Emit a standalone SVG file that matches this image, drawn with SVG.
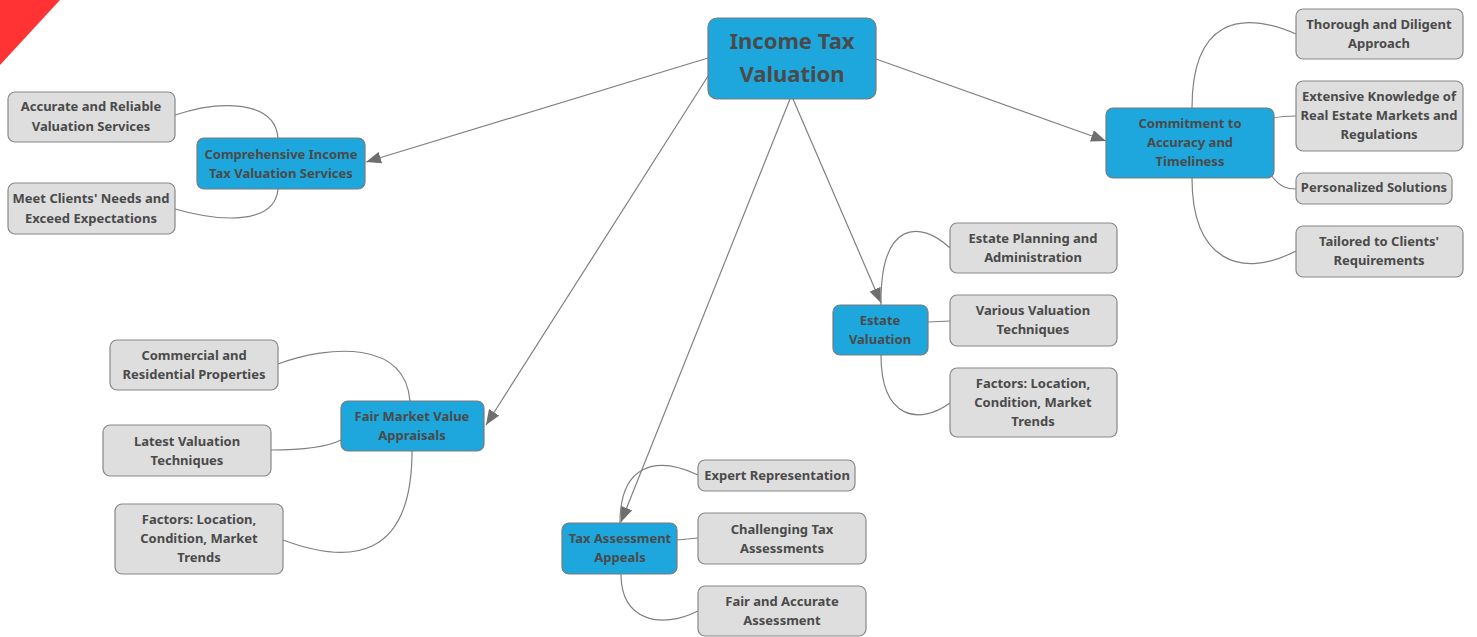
<svg xmlns="http://www.w3.org/2000/svg" width="1477" height="637" viewBox="0 0 1477 637">
<style>
.main{fill:#1ea7dc;stroke:#7a7a7a;stroke-width:1.2}
.sub{fill:#dedede;stroke:#888;stroke-width:1.2}
text{font-family:"Noto Sans","Open Sans","DejaVu Sans",sans-serif;font-weight:bold;fill:#4a4a4a;text-anchor:middle;dominant-baseline:central}
.t13{font-size:13px}
.t22{font-size:22px}
.link{fill:none;stroke:#808080;stroke-width:1.2}
.arrow{fill:none;stroke:#808080;stroke-width:1.2;marker-end:url(#ah)}
</style>
<defs>
<marker id="ah" markerUnits="userSpaceOnUse" markerWidth="16" markerHeight="12" refX="15" refY="6" orient="auto">
<path d="M0,0 L15,6 L0,12 Z" fill="#6e6e6e"/>
</marker>
</defs>
<rect width="1477" height="637" fill="#ffffff"/>
<polygon points="0,0 60,0 0,65" fill="#ff3333"/>
<g id="connectors">
<path class="arrow" d="M708,58 L366,162"/>
<path class="arrow" d="M710,73 L486,425"/>
<path class="arrow" d="M790,99 L621,522"/>
<path class="arrow" d="M793,99 L881,303"/>
<path class="arrow" d="M876,59 L1106,141"/>
<path class="link" d="M175,115 C220,100 275,100 278,138"/>
<path class="link" d="M278,189 C275,225 220,222 175,209"/>
<path class="link" d="M278,364 C330,345 405,340 410,401"/>
<path class="link" d="M271,450 C300,450 325,448 341,440"/>
<path class="link" d="M412,451 C412,560 350,565 283,540"/>
<path class="link" d="M698,475 C655,455 620,465 620,523"/>
<path class="link" d="M677,540 L698,538"/>
<path class="link" d="M621,574 C621,620 660,630 698,611"/>
<path class="link" d="M881,305 C880,220 920,220 950,248"/>
<path class="link" d="M928,322 L950,321"/>
<path class="link" d="M881,355 C881,420 920,425 950,403"/>
<path class="link" d="M1192,108 C1192,20 1240,10 1296,34"/>
<path class="link" d="M1274,118 C1282,116 1288,116 1296,116"/>
<path class="link" d="M1271,175 C1278,185 1285,189 1296,189"/>
<path class="link" d="M1192,178 C1192,260 1240,280 1296,251"/>
</g>
<g id="n-center"><rect class="main" x="708" y="18" width="168" height="81" rx="9"/><text class="t22" x="792" y="40">Income Tax</text><text class="t22" x="792" y="73">Valuation</text></g>
<g id="n-comprehensive"><rect class="main" x="197" y="138" width="168" height="51" rx="7"/><text class="t13" x="281" y="154">Comprehensive Income</text><text class="t13" x="281" y="173">Tax Valuation Services</text></g>
<g id="n-accurate"><rect class="sub" x="8" y="92" width="167" height="50" rx="7"/><text class="t13" x="91" y="106">Accurate and Reliable</text><text class="t13" x="91" y="126">Valuation Services</text></g>
<g id="n-meet"><rect class="sub" x="8" y="183" width="167" height="51" rx="7"/><text class="t13" x="91" y="198">Meet Clients' Needs and</text><text class="t13" x="91" y="218">Exceed Expectations</text></g>
<g id="n-commitment"><rect class="main" x="1106" y="108" width="168" height="70" rx="7"/><text class="t13" x="1190" y="123">Commitment to</text><text class="t13" x="1190" y="142">Accuracy and</text><text class="t13" x="1190" y="161">Timeliness</text></g>
<g id="n-thorough"><rect class="sub" x="1296" y="9" width="167" height="50" rx="7"/><text class="t13" x="1379" y="24">Thorough and Diligent</text><text class="t13" x="1379" y="43">Approach</text></g>
<g id="n-extensive"><rect class="sub" x="1296" y="81" width="167" height="70" rx="7"/><text class="t13" x="1379" y="96">Extensive Knowledge of</text><text class="t13" x="1379" y="115">Real Estate Markets and</text><text class="t13" x="1379" y="134">Regulations</text></g>
<g id="n-personalized"><rect class="sub" x="1296" y="173" width="156" height="31" rx="7"/><text class="t13" x="1374" y="187">Personalized Solutions</text></g>
<g id="n-tailored"><rect class="sub" x="1296" y="226" width="167" height="51" rx="7"/><text class="t13" x="1379" y="241">Tailored to Clients'</text><text class="t13" x="1379" y="260">Requirements</text></g>
<g id="n-estate"><rect class="main" x="833" y="305" width="95" height="50" rx="7"/><text class="t13" x="880" y="320">Estate</text><text class="t13" x="880" y="339">Valuation</text></g>
<g id="n-estate-planning"><rect class="sub" x="950" y="223" width="167" height="50" rx="7"/><text class="t13" x="1033" y="238">Estate Planning and</text><text class="t13" x="1033" y="257">Administration</text></g>
<g id="n-various"><rect class="sub" x="950" y="295" width="167" height="51" rx="7"/><text class="t13" x="1033" y="310">Various Valuation</text><text class="t13" x="1033" y="329">Techniques</text></g>
<g id="n-factors-estate"><rect class="sub" x="950" y="368" width="167" height="69" rx="7"/><text class="t13" x="1033" y="383">Factors: Location,</text><text class="t13" x="1033" y="402">Condition, Market</text><text class="t13" x="1033" y="421">Trends</text></g>
<g id="n-fmv"><rect class="main" x="341" y="401" width="143" height="50" rx="7"/><text class="t13" x="412" y="416">Fair Market Value</text><text class="t13" x="412" y="435">Appraisals</text></g>
<g id="n-commercial"><rect class="sub" x="110" y="340" width="168" height="50" rx="7"/><text class="t13" x="194" y="355">Commercial and</text><text class="t13" x="194" y="374">Residential Properties</text></g>
<g id="n-latest"><rect class="sub" x="103" y="425" width="168" height="51" rx="7"/><text class="t13" x="187" y="441">Latest Valuation</text><text class="t13" x="187" y="460">Techniques</text></g>
<g id="n-factors-fmv"><rect class="sub" x="115" y="504" width="168" height="70" rx="7"/><text class="t13" x="199" y="519">Factors: Location,</text><text class="t13" x="199" y="538">Condition, Market</text><text class="t13" x="199" y="557">Trends</text></g>
<g id="n-tax-appeals"><rect class="main" x="562" y="523" width="115" height="51" rx="7"/><text class="t13" x="620" y="538">Tax Assessment</text><text class="t13" x="620" y="557">Appeals</text></g>
<g id="n-expert"><rect class="sub" x="698" y="460" width="157" height="31" rx="7"/><text class="t13" x="777" y="475">Expert Representation</text></g>
<g id="n-challenging"><rect class="sub" x="698" y="513" width="168" height="51" rx="7"/><text class="t13" x="782" y="529">Challenging Tax</text><text class="t13" x="782" y="548">Assessments</text></g>
<g id="n-fair-accurate"><rect class="sub" x="698" y="586" width="168" height="50" rx="7"/><text class="t13" x="782" y="601">Fair and Accurate</text><text class="t13" x="782" y="620">Assessment</text></g>
</svg>
